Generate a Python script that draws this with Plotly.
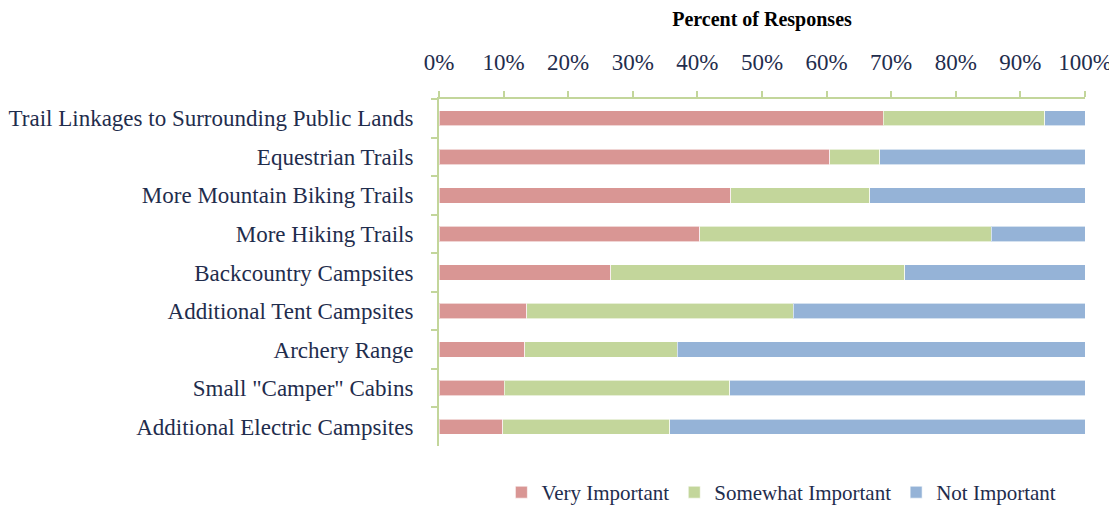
import plotly.graph_objects as go

categories = [
    "Trail Linkages to Surrounding Public Lands",
    "Equestrian Trails",
    "More Mountain Biking Trails",
    "More Hiking Trails",
    "Backcountry Campsites",
    "Additional Tent Campsites",
    "Archery Range",
    "Small \"Camper\" Cabins",
    "Additional Electric Campsites",
]
very_important = [68.8, 60.5, 45.2, 40.4, 26.6, 13.6, 13.3, 10.1, 9.9]
somewhat_important = [25.0, 7.7, 21.5, 45.1, 45.5, 41.2, 23.6, 34.9, 25.8]
not_important = [6.2, 31.8, 33.3, 14.5, 27.9, 45.2, 63.1, 55.0, 64.3]

SERIES = [
    ("Very Important", very_important, "#D99694"),
    ("Somewhat Important", somewhat_important, "#C3D69B"),
    ("Not Important", not_important, "#95B3D7"),
]

FONT = "Liberation Serif"
TEXT_COLOR = "#1F2D4D"
AXIS_COLOR = "#C3D69B"

fig = go.Figure()
for name, vals, color in SERIES:
    fig.add_trace(
        go.Bar(
            y=categories,
            x=vals,
            name=name,
            orientation="h",
            marker=dict(color=color, line=dict(color="rgba(255,255,255,0.6)", width=1)),
        )
    )

# page body has an 8px margin, so the figure is shrunk by that much
fig.update_layout(
    barmode="stack",
    bargap=0.6,
    width=1109,
    height=499,
    paper_bgcolor="white",
    plot_bgcolor="white",
    margin=dict(l=431, r=32, t=91, b=61, autoexpand=False),
    font=dict(family=FONT, color=TEXT_COLOR, size=23),
    xaxis=dict(
        side="top",
        range=[0, 100],
        dtick=10,
        ticksuffix="%",
        showgrid=False,
        zeroline=False,
        showline=True,
        linecolor=AXIS_COLOR,
        linewidth=2,
        ticks="outside",
        ticklen=6,
        tickwidth=2,
        tickcolor=AXIS_COLOR,
        ticklabelstandoff=12,
        tickfont=dict(size=23, color=TEXT_COLOR),
        title=dict(
            text="<b>Percent of Responses</b>",
            font=dict(size=20, color="black"),
            standoff=18,
        ),
    ),
    yaxis=dict(
        autorange="reversed",
        showgrid=False,
        showline=True,
        linecolor=AXIS_COLOR,
        linewidth=2,
        ticks="outside",
        tickson="boundaries",
        ticklen=6,
        tickwidth=2,
        tickcolor=AXIS_COLOR,
        ticklabelstandoff=19,
        tickfont=dict(size=23, color=TEXT_COLOR),
    ),
    legend=dict(
        orientation="h",
        x=0.530,
        xanchor="center",
        y=-0.075,
        yanchor="top",
        font=dict(size=21, color=TEXT_COLOR),
        traceorder="normal",
        itemwidth=30,
    ),
)

fig.write_html("out.html")
